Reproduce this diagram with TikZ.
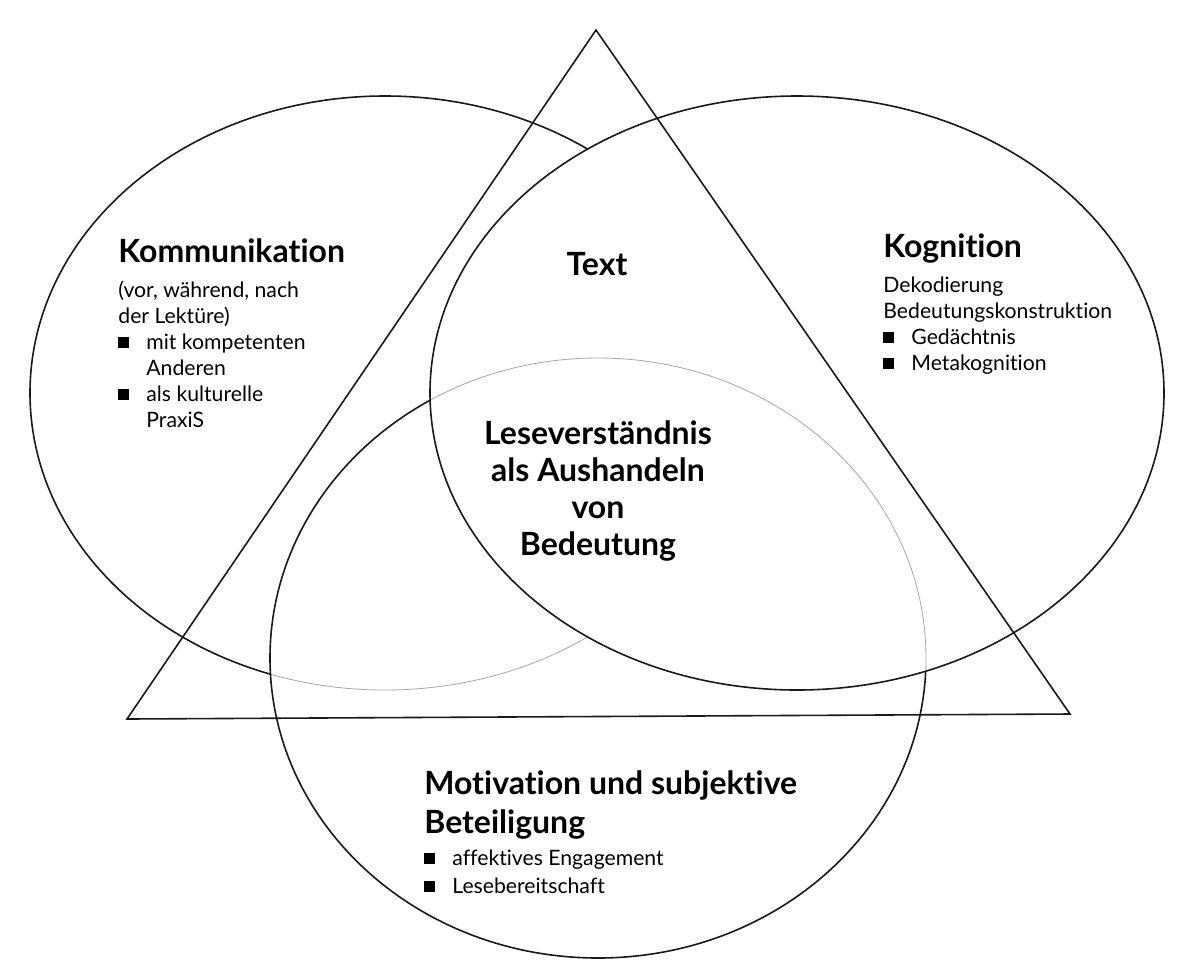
\documentclass[tikz,border=0pt]{standalone}
\usepackage{fontspec}
\setmainfont{Lato}[Ligatures={NoCommon}]
\usepackage{tikz}
\usetikzlibrary{positioning}

\newcommand{\sqbul}{\makebox[14pt][l]{\rule[0.3pt]{5.5pt}{5.5pt}}}
\newcommand{\sqind}{\hspace*{14pt}}
\newcommand{\ellKom}{(385,393) ellipse [x radius=355, y radius=297]}
\newcommand{\ellKog}{(797,393) ellipse [x radius=367, y radius=297]}
\newcommand{\ellMot}{(598,658) ellipse [x radius=328, y radius=300]}

\tikzset{
  outline/.style={draw=black!90, line width=0.8pt},
  faint/.style={draw=black!35, line width=0.4pt},
  head/.style={font=\bfseries\fontsize{16}{19.5}\selectfont, inner sep=0pt, anchor=base west, align=left},
  body/.style={font=\fontsize{10.6}{13}\selectfont, inner sep=0pt, anchor=base west, align=left}
}

\begin{document}
\begin{tikzpicture}[x=0.5pt,y=-0.5pt]
          \useasboundingbox (0,0) rectangle (1183,976);
          % ellipses, back to front
          \draw[outline] \ellKom;
          \fill[white] \ellMot;
          \begin{scope}
            \clip \ellMot;
            \draw[faint] \ellKom;
          \end{scope}
          \draw[outline] \ellMot;
          \fill[white] \ellKog;
          \begin{scope}
            \clip \ellKog;
            \draw[faint] \ellMot;
          \end{scope}
          \draw[outline] \ellKog;
          % triangle
          \coordinate (top) at (596,30);
          \coordinate (bl) at (127,719);
          \coordinate (br) at (1070,714);
          \draw[outline, line join=miter] (top) -- (bl) -- (br) -- cycle;
          % labels (multi-line nodes sit on their last line)
          \node[head] (kom) at (118,262) {Kommunikation};
          \node[body] (komtxt) at (118,427) {(vor, während, nach\\der Lektüre)\\\sqbul mit kompetenten\\\sqind Anderen\\\sqbul als kulturelle\\\sqind PraxiS};
          \node[head, anchor=base] (txt) at (597,275) {Text};
          \node[head] (kog) at (883,257) {Kognition};
          \node[body] (kogtxt) at (883,370) {Dekodierung\\Bedeutungskonstruktion\\\sqbul Gedächtnis\\\sqbul Metakognition};
          \node[head, anchor=base, align=center, font=\bfseries\fontsize{16}{18.5}\selectfont] (lv) at (598,555) {Leseverständnis\\als Aushandeln\\von\\Bedeutung};
          \node[head] (mot) at (424,833) {Motivation und subjektive\\Beteiligung};
          \node[body, font=\fontsize{10.6}{14}\selectfont] (mottxt) at (424,893) {\sqbul affektives Engagement\\\sqbul Lesebereitschaft};
        \end{tikzpicture}
\end{document}
